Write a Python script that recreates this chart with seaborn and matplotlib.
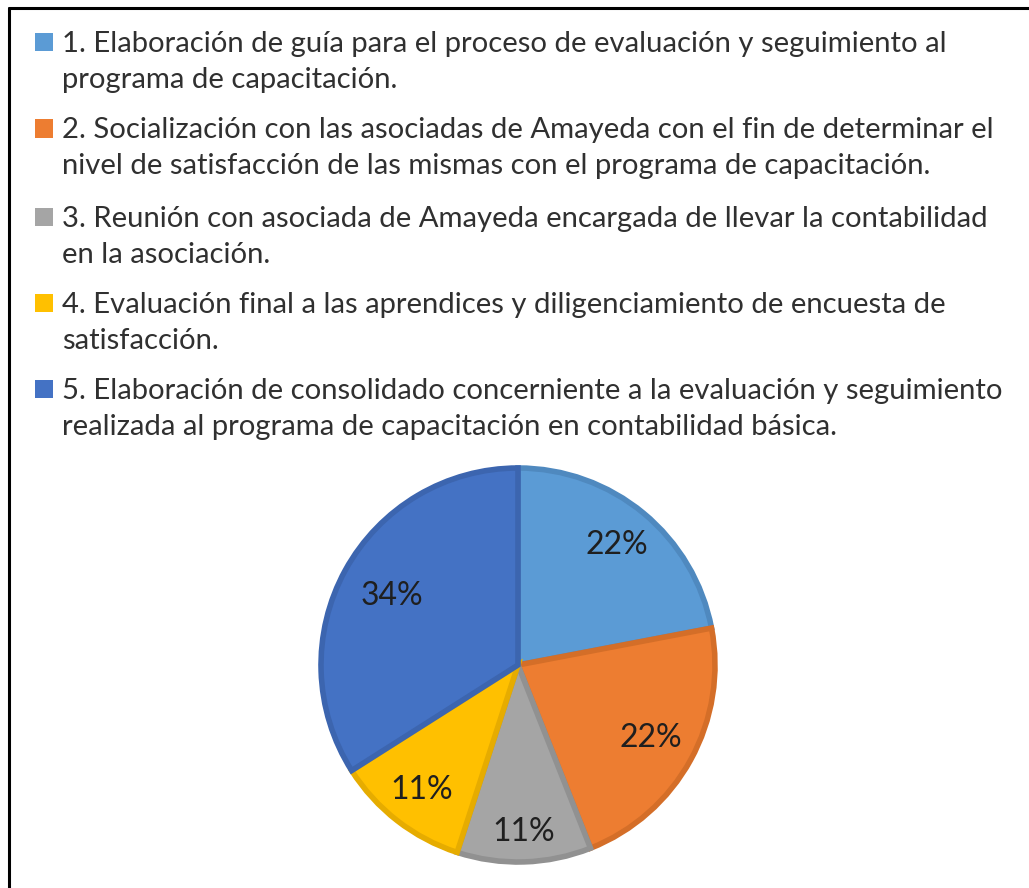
import matplotlib
matplotlib.use("Agg")
import matplotlib.pyplot as plt
import seaborn as sns
import numpy as np
from matplotlib.patches import Rectangle
from matplotlib.lines import Line2D

sns.set_theme(style="white")
plt.rcParams["font.family"] = ["Lato", "DejaVu Sans"]

# Activity share of the training follow-up plan
actividades = [
    ["1. Elaboración de guía para el proceso de evaluación y seguimiento al",
     "programa de capacitación."],
    ["2. Socialización con las asociadas de Amayeda con el fin de determinar el",
     "nivel de satisfacción de las mismas con el programa de capacitación."],
    ["3. Reunión con asociada de Amayeda encargada de llevar la contabilidad",
     "en la asociación."],
    ["4. Evaluación final a las aprendices y diligenciamiento de encuesta de",
     "satisfacción."],
    ["5. Elaboración de consolidado concerniente a la evaluación y seguimiento",
     "realizada al programa de capacitación en contabilidad básica."],
]
porcentajes = [22, 22, 11, 11, 34]

colores = ["#5B9BD5", "#ED7D31", "#A5A5A5", "#FFC000", "#4472C4"]
bordes = ["#4F89BF", "#D46E28", "#919191", "#E6AC00", "#3C65AF"]
dist_etiqueta = [0.79, 0.77, 0.85, 0.80, 0.73]

W, H = 1029, 888
fig = plt.figure(figsize=(W / 100, H / 100), dpi=100)
fig.patch.set_facecolor("white")

# Pie placed by pixel geometry
cx, cy, r = 518, 665, 197
ax = fig.add_axes([(cx - r) / W, (H - cy - r) / H, 2 * r / W, 2 * r / H])
wedges, _ = ax.pie(
    porcentajes,
    colors=colores,
    startangle=90,
    counterclock=False,
    radius=1.0,
    wedgeprops=dict(linewidth=4.0, joinstyle="miter"),
)
for w, ec in zip(wedges, bordes):
    w.set_edgecolor(ec)

for w, p, d in zip(wedges, porcentajes, dist_etiqueta):
    ang = np.deg2rad((w.theta1 + w.theta2) / 2)
    ax.text(d * np.cos(ang), d * np.sin(ang), f"{p}%",
            ha="center", va="center", fontsize=23, color="#1F1F1F")
ax.set_xlim(-1, 1)
ax.set_ylim(-1, 1)
ax.set_aspect("equal")
ax.axis("off")

# Legend block with square keys aligned to each item's first line
texto_color = "#303030"
base_y = [52, 138, 227, 313, 399]
salto = 36
fs = 21.1
for (lineas, col, by) in zip(actividades, colores, base_y):
    fig.patches.append(Rectangle((35 / W, 1 - (by - 0.5) / H), 18 / W, 18 / H,
                                 transform=fig.transFigure, facecolor=col,
                                 edgecolor="none"))
    for i, ln in enumerate(lineas):
        fig.text(62 / W, 1 - (by + i * salto) / H, ln, ha="left",
                 va="baseline", fontsize=fs, color=texto_color)

# Frame lines along top and left edges
fig.add_artist(Line2D([9 / W, 1.0], [1 - 8 / H, 1 - 8 / H],
                      transform=fig.transFigure, color="black", linewidth=2.2))
fig.add_artist(Line2D([9 / W, 9 / W], [0.0, 1 - 8 / H],
                      transform=fig.transFigure, color="black", linewidth=2.2))

fig.savefig("out.png", dpi=100, facecolor="white")
